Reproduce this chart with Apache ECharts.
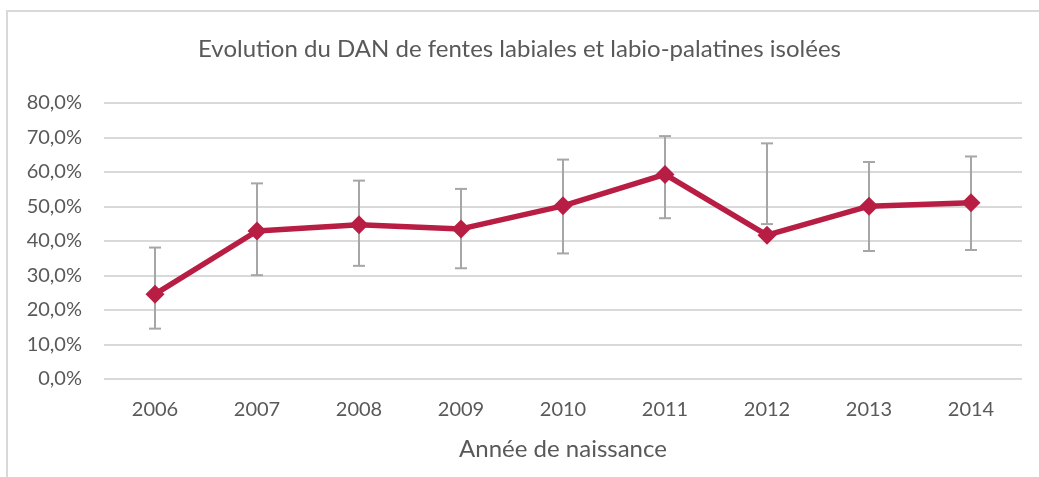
<!DOCTYPE html>
<html><head><meta charset="utf-8">
<script src="https://cdn.jsdelivr.net/npm/echarts@6/dist/echarts.min.js"></script>
<style>html,body{margin:0;padding:0;background:#fff}#c{width:1039px;height:477px}</style>
</head><body><div id="c"></div>
<script>
const categories = ['2006','2007','2008','2009','2010','2011','2012','2013','2014'];
const values = [24.6, 42.9, 44.7, 43.5, 50.2, 59.3, 41.7, 50.1, 51.1];
const errLow = [14.6, 30.1, 32.8, 32.1, 36.4, 46.6, 44.9, 37.1, 37.4];
const errHigh = [38.1, 56.7, 57.5, 55.1, 63.6, 70.4, 68.3, 62.9, 64.5];
const yTicks = [0, 10, 20, 30, 40, 50, 60, 70, 80];

const FONT = 'Lato';
const chart = echarts.init(document.getElementById('c'), null, {renderer: 'canvas'});
const errData = categories.map((c, i) => [i, errLow[i], errHigh[i]]);
chart.setOption({
  animation: false,
  backgroundColor: '#fff',
  textStyle: {fontFamily: FONT},
  title: {
    text: 'Evolution du DAN de fentes labiales et labio-palatines isolées',
    left: 'center', top: 32,
    textStyle: {fontFamily: FONT, fontSize: 24, fontWeight: 'normal', color: '#595959'}
  },
  graphic: [{
    type: 'polyline', shape: {points: [[7, 477], [7, 11], [1039, 11]]},
    style: {stroke: '#d9d9d9', lineWidth: 2, fill: null}, silent: true
  }],
  grid: {left: 104, right: 17, top: 103, bottom: 98},
  xAxis: {
    type: 'category', data: categories,
    axisLine: {show: false}, axisTick: {show: false},
    axisLabel: {fontFamily: FONT, fontSize: 20, color: '#595959', margin: 21},
    name: 'Année de naissance', nameLocation: 'middle', nameGap: 58,
    nameTextStyle: {fontFamily: FONT, fontSize: 24, color: '#595959'}
  },
  yAxis: {
    type: 'value', min: 0, max: 80, interval: 10,
    axisLine: {show: false}, axisTick: {show: false},
    splitLine: {lineStyle: {color: '#d9d9d9', width: 2}},
    axisLabel: {fontFamily: FONT, fontSize: 20, color: '#595959', margin: 22,
      formatter: v => yTicks.includes(v) ? v.toFixed(1).replace('.', ',') + '%' : ''}
  },
  series: [{
    type: 'custom', z: 1,
    data: errData,
    renderItem: (params, api) => {
      const x = api.value(0);
      const lo = api.coord([x, api.value(1)]);
      const hi = api.coord([x, api.value(2)]);
      const w = 6;
      const st = {stroke: '#a6a6a6', lineWidth: 2};
      return {type: 'group', children: [
        {type: 'line', shape: {x1: lo[0], y1: lo[1], x2: hi[0], y2: hi[1]}, style: st},
        {type: 'line', shape: {x1: lo[0]-w, y1: lo[1], x2: lo[0]+w, y2: lo[1]}, style: st},
        {type: 'line', shape: {x1: hi[0]-w, y1: hi[1], x2: hi[0]+w, y2: hi[1]}, style: st}
      ]};
    }
  }, {
    type: 'line', z: 2, data: values,
    symbol: 'diamond', symbolSize: 19,
    lineStyle: {color: '#B81E44', width: 5.5},
    itemStyle: {color: '#B81E44'}
  }]
});
</script></body></html>
